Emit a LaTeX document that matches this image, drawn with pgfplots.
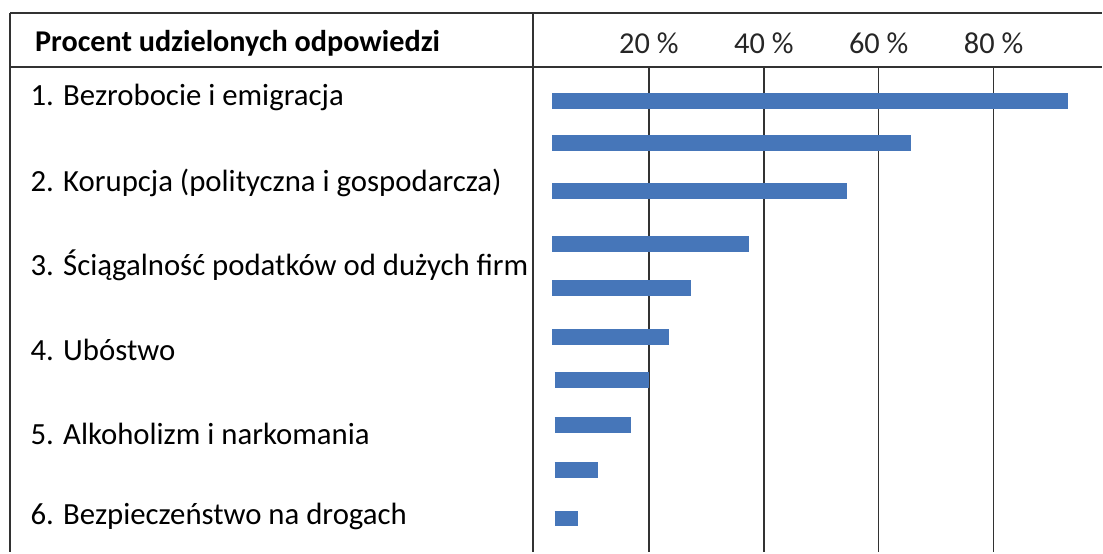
\documentclass[border=0pt]{standalone}
\usepackage{pgfplots}
\pgfplotsset{compat=1.18}
\usepackage{fontspec}
\setmainfont{Carlito}
\definecolor{barblue}{RGB}{70,118,185}
\definecolor{linec}{RGB}{50,50,50}

\begin{document}
\begin{tikzpicture}
\begin{axis}[
  scale only axis,
  width=284.25pt, height=243pt,
  xmin=0, xmax=98.87,
  ymin=67, ymax=553,
  y dir=reverse,
  clip=false,
  axis line style={draw=none},
  xtick={20,40,60,80},
  xticklabels={20 \%,40 \%,60 \%,80 \%},
  xticklabel pos=top,
  major tick length=0pt,
  xticklabel style={anchor=center, font=\fontsize{15.2}{17}\selectfont, text=black!85},
  xticklabel shift=12pt,
  ytick=\empty,
  xmajorgrids,
  major grid style={draw=linec, line width=0.7pt},
  unbounded coords=jump,
]
% each bar: start and end of the bar (percent), at its row position
\addplot[barblue, line width=8pt, line cap=butt, mark=none] coordinates {
(3.2,101) (93.0,101) (nan,nan)
(3.2,143) (65.6,143) (nan,nan)
(3.2,191) (54.5,191) (nan,nan)
(3.2,244) (37.4,244) (nan,nan)
(3.2,288) (27.3,288) (nan,nan)
(3.2,337) (23.5,337) (nan,nan)
(3.6,380) (20.0,380) (nan,nan)
(3.6,425) (16.9,425) (nan,nan)
(3.6,470) (11.2,470) (nan,nan)
(3.6,519) (7.6,519)
};

\path (axis cs:-92.96,0) rectangle (axis cs:98.87,553);
\draw[linec, line width=1pt] (axis cs:-91.2,13) -- (axis cs:98.87,13);
\draw[linec, line width=0.8pt] (axis cs:-91.2,67) -- (axis cs:98.87,67);
\draw[linec, line width=0.8pt] (axis cs:-91.2,13) -- (axis cs:-91.2,553);
\draw[linec, line width=1.2pt] (axis cs:-0.2,13) -- (axis cs:-0.2,553);

\node[anchor=west, inner sep=0pt, font=\fontsize{15.1}{17}\selectfont\bfseries] at (axis cs:-86.9,43) {Procent udzielonych odpowiedzi};
\node[anchor=west, inner sep=0pt, font=\fontsize{15.4}{17}\selectfont] at (axis cs:-87.7,98) {1. Bezrobocie i emigracja};
\node[anchor=west, inner sep=0pt, font=\fontsize{15.4}{17}\selectfont] at (axis cs:-87.7,183) {2. Korupcja (polityczna i gospodarcza)};
\node[anchor=west, inner sep=0pt, font=\fontsize{15.4}{17}\selectfont] at (axis cs:-87.7,266) {3. Ściągalność podatków od dużych firm};
\node[anchor=west, inner sep=0pt, font=\fontsize{15.4}{17}\selectfont] at (axis cs:-87.7,350) {4. Ubóstwo};
\node[anchor=west, inner sep=0pt, font=\fontsize{15.4}{17}\selectfont] at (axis cs:-87.7,434) {5. Alkoholizm i narkomania};
\node[anchor=west, inner sep=0pt, font=\fontsize{15.4}{17}\selectfont] at (axis cs:-87.7,517) {6. Bezpieczeństwo na drogach};
\end{axis}
\end{tikzpicture}
\end{document}
